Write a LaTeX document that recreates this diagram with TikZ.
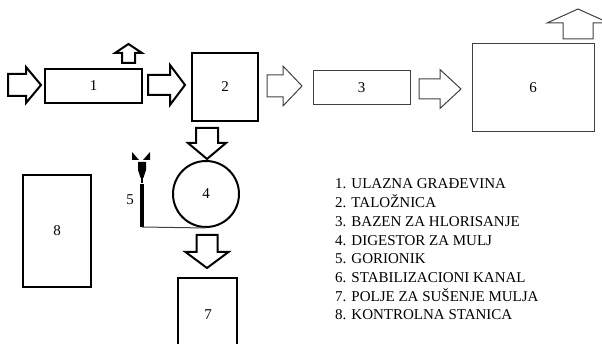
\documentclass[tikz,border=0pt]{standalone}
\usepackage{fontspec}
\setmainfont{Liberation Serif}
% horizontal block arrow: style, x start, x head, x tip, y, body half, head half
\newcommand\hblockarrow[7]{%
  \draw[#1] ({#2},{#5-#6}) -- ({#3},{#5-#6}) -- ({#3},{#5-#7}) -- ({#4},{#5})
    -- ({#3},{#5+#7}) -- ({#3},{#5+#6}) -- ({#2},{#5+#6}) -- cycle;}
% vertical block arrow: style, x, y start, y head, y tip, stem half, head half
\newcommand\vblockarrow[7]{%
  \draw[#1] ({#2-#6},{#3}) -- ({#2+#6},{#3}) -- ({#2+#6},{#4}) -- ({#2+#7},{#4})
    -- ({#2},{#5}) -- ({#2-#7},{#4}) -- ({#2-#6},{#4}) -- cycle;}
\begin{document}
\begin{tikzpicture}[x=1pt,y=-1pt,
  every node/.style={font=\fontsize{15}{18}\selectfont, inner sep=0pt},
  heavy/.style={draw=black, line width=2pt},
  light/.style={draw=black!75, line width=1pt},
  unitbox/.style n args={2}{rectangle, minimum width=#1, minimum height=#2},
  legend/.style={anchor=base west}
]
\useasboundingbox (0,0) rectangle (602,344);
\clip (0,0) rectangle (602,344);

% plant units
\node[heavy, unitbox={97pt}{34pt}] (u1) at (93.5,86) {1};
\node[heavy, unitbox={66pt}{68pt}] (u2) at (225,87) {2};
\node[light, unitbox={97pt}{34pt}] (u3) at (361.5,88) {3};
\node[light, unitbox={122pt}{88pt}] (u6) at (533,88) {6};
\node[heavy, circle, minimum size=66pt] (u4) at (206,194) {4};
\node[heavy, unitbox={59pt}{84pt}, anchor=north] (u7) at (207.5,277) {};
\node (n7) at (208,315) {7};
\node[heavy, unitbox={68pt}{112pt}] (u8) at (57,231) {8};

% flow arrows
\hblockarrow{heavy}{8}{26}{41}{85}{11}{18}
\hblockarrow{heavy}{148}{170}{185}{85}{10}{20}
\hblockarrow{light}{267}{283}{302}{86}{11}{20}
\hblockarrow{light}{419}{440}{461}{89}{10}{19.5}
\vblockarrow{heavy}{128.5}{63}{53}{44}{6.5}{13.5}
\vblockarrow{light}{578}{39}{23}{9}{15}{31}
\vblockarrow{heavy}{207}{128}{143}{159}{11}{19}
\vblockarrow{heavy}{207}{235}{252}{268}{10.5}{21.5}

% gas burner
\coordinate (b0) at (142,227);
\fill (132,152) -- (132,160) -- (139,160) -- cycle;
\fill (150,152) -- (150,160) -- (143,160) -- cycle;
\fill (138,162) -- (146,162) -- (146,170) -- (143.4,178) -- (140.6,178) -- (138,170) -- cycle;
\draw[line width=1.2pt] (142,178) -- (142,183);
\draw[line width=4pt] (142,184.5) -- (b0);
\draw[draw=black!75, line width=1pt] (b0) -- (u4.south);
\node (n5) at (130,200) {5};

% legend
\node[legend] (l1) at (335,189.0) {1. ULAZNA GRAĐEVINA};
\node[legend] (l2) at (335,207.7) {2. TALOŽNICA};
\node[legend] (l3) at (335,226.4) {3. BAZEN ZA HLORISANJE};
\node[legend] (l4) at (335,245.1) {4. DIGESTOR ZA MULJ};
\node[legend] (l5) at (335,263.8) {5. GORIONIK};
\node[legend] (l6) at (335,282.5) {6. STABILIZACIONI KANAL};
\node[legend] (l7) at (335,301.2) {7. POLJE ZA SUŠENJE MULJA};
\node[legend] (l8) at (335,319.9) {8. KONTROLNA STANICA};
\end{tikzpicture}
\end{document}
